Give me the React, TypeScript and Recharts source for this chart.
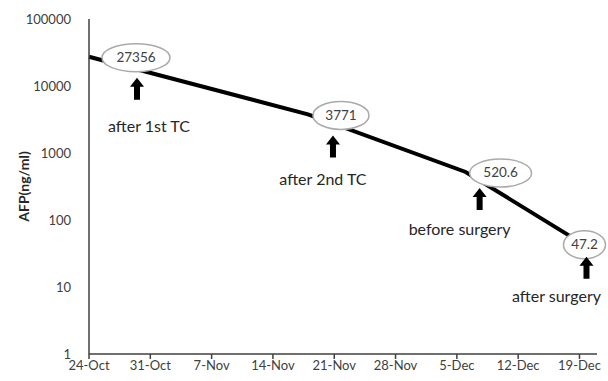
import { LineChart, Line, XAxis, YAxis, LabelList } from "recharts";

// days counted from 24-Oct
const days = [0, 25, 43, 56];
const afp = [27356, 3771, 520.6, 47.2];
const notes = ["after 1st TC", "after 2nd TC", "before surgery", "after surgery"];

const tickDays = [0, 7, 14, 21, 28, 35, 42, 49, 56];
const tickLabels = ["24-Oct", "31-Oct", "7-Nov", "14-Nov", "21-Nov", "28-Nov", "5-Dec", "12-Dec", "19-Dec"];
const yTicks = [1, 10, 100, 1000, 10000, 100000];

const data = days.map((d, i) => ({ day: d, afp: afp[i], note: notes[i] }));

// callout placement relative to each point (ellipse, arrow, caption)
const callouts = [
  { ex: 47, ey: 1, rx: 34, ax: 48, ay: 21, tx: 60, ty: 70 },
  { ex: 33, ey: 1, rx: 28, ax: 25, ay: 21, tx: 15, ty: 66 },
  { ex: 35, ey: 1, rx: 31, ax: 14, ay: 16, tx: -6, ty: 58 },
  { ex: 5, ey: 3, rx: 21, ax: 7, ay: 15, tx: -23, ty: 55 },
];

const font = "Lato, 'Liberation Sans', sans-serif";

const Callout = (props: any) => {
  const { x, y, index, value } = props;
  const c = callouts[index];
  if (!c) return null;
  const cx = x + c.ex;
  const cy = y + c.ey;
  const axp = x + c.ax;
  const top = y + c.ay;
  const bot = top + 22;
  return (
    <g>
      <ellipse cx={cx} cy={cy} rx={c.rx} ry={14} fill="#fff" stroke="#aaa" strokeWidth={1.5} />
      <text x={cx} y={cy + 4.5} textAnchor="middle" fontSize={13.5} fill="#404040" fontFamily={font}>
        {value}
      </text>
      <path
        d={`M${axp} ${top} L${axp + 7} ${top + 9} L${axp + 3} ${top + 9} L${axp + 3} ${bot} L${axp - 3} ${bot} L${axp - 3} ${top + 9} L${axp - 7} ${top + 9} Z`}
        fill="#000"
      />
      <text x={x + c.tx} y={y + c.ty + 5} textAnchor="middle" fontSize={16} fill="#262626" fontFamily={font}>
        {notes[index]}
      </text>
    </g>
  );
};

export default function App() {
  return (
    <div style={{ position: "absolute", left: 0, top: 0, background: "#fff" }}>
      <LineChart width={608} height={381} data={data} margin={{ top: 19, right: 11, left: 0, bottom: 0 }}>
        <XAxis
          dataKey="day"
          type="number"
          domain={[0, 58]}
          ticks={tickDays}
          tickFormatter={(v: number) => tickLabels[tickDays.indexOf(v)] ?? ""}
          height={27}
          stroke="#404040"
          strokeWidth={1.5}
          tickSize={5}
          tick={{ fill: "#404040", fontSize: 13, fontFamily: font }}
        />
        <YAxis
          scale="log"
          domain={[1, 100000]}
          ticks={yTicks}
          allowDataOverflow
          width={89}
          stroke="#404040"
          strokeWidth={1.5}
          tickLine={false}
          tickMargin={12}
          tick={{ fill: "#404040", fontSize: 13, fontFamily: font }}
          label={{
            value: "AFP(ng/ml)",
            angle: -90,
            position: "insideLeft",
            offset: 24,
            style: { fontWeight: "bold", fontSize: 14, fill: "#262626", fontFamily: font, textAnchor: "middle" },
          }}
        />
        <Line
          type="linear"
          dataKey="afp"
          stroke="#000"
          strokeWidth={4}
          dot={false}
          isAnimationActive={false}
        >
          <LabelList dataKey="afp" content={<Callout />} />
        </Line>
      </LineChart>
    </div>
  );
}
